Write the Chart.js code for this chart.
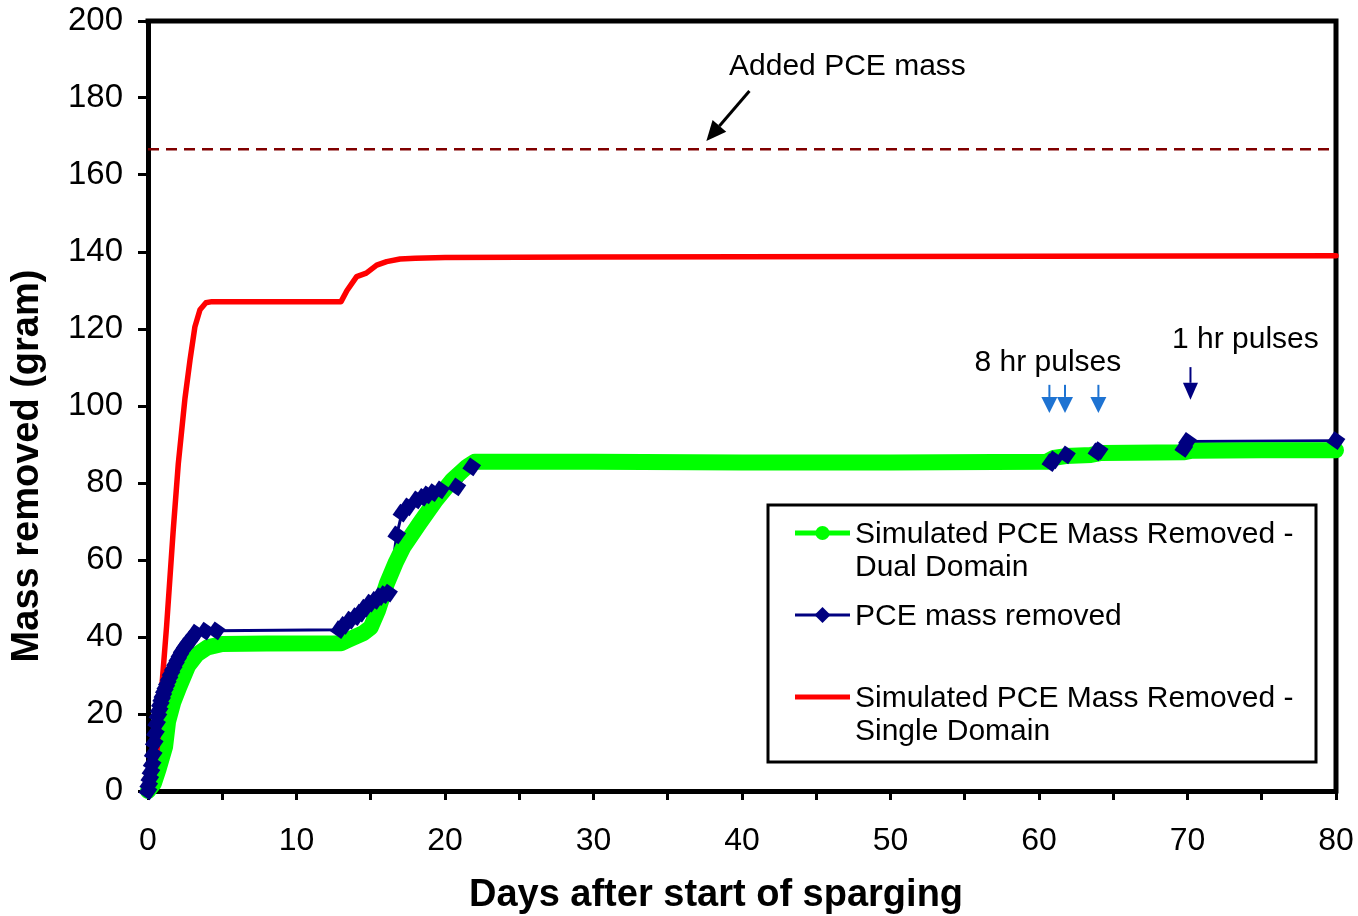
<!DOCTYPE html>
<html><head><meta charset="utf-8">
<script src="https://cdn.jsdelivr.net/npm/chart.js@4.4.1/dist/chart.umd.min.js"></script>
<style>html,body{margin:0;padding:0;background:#fff;}#wrap{width:1358px;height:916px;position:relative;}</style>
</head><body><div id="wrap"><canvas id="c"></canvas></div>
<script>
// ---- data ----
const dualDays = [0, 0.4, 0.7, 1.15, 1.35, 1.7, 2.1, 2.7, 3.3, 4.0, 5.0, 8.0, 13.0, 13.5, 14.5, 15.0, 15.5, 16.1, 16.7, 17.2, 18.3, 19.4, 20.5, 21.5, 22.0, 30, 40, 50, 60.5, 61.0, 61.8, 63.5, 64.2, 69.8, 70.3, 75, 80];
const dualMass = [0, 2, 5.5, 11.5, 18, 23, 27, 32.5, 35.5, 37.3, 38.2, 38.3, 38.4, 39.3, 41, 42.5, 47, 54, 59.5, 63.4, 69.6, 75.6, 80.8, 84.3, 85.5, 85.5, 85.3, 85.3, 85.5, 86.5, 87.0, 87.3, 87.8, 88.0, 88.4, 88.5, 88.5];

const obsDays = [0, 0.05, 0.12, 0.2, 0.28, 0.35, 0.42, 0.5, 0.58, 0.67, 0.75, 0.83, 0.92, 1.0, 1.1, 1.2, 1.3, 1.42, 1.55, 1.7, 1.85, 2.0, 2.15, 2.3, 2.5, 2.7, 2.9, 3.2, 3.85, 4.6,
  12.9, 13.2, 13.6, 14.0, 14.3, 14.6, 14.95, 15.3, 15.6, 15.9, 16.2, 16.75, 17.1, 17.5, 18.1, 18.5, 18.8, 19.2, 19.7, 20.8, 21.8,
  60.8, 61.0, 61.85, 63.9, 64.05, 69.75, 70.0, 80];
const obsMass = [0, 1.5, 3.2, 5.0, 7.0, 9.5, 12.5, 15.0, 17.5, 19.5, 21.0, 22.5, 23.8, 24.8, 26.0, 27.0, 28.0, 29.2, 30.5, 31.8, 33.0, 34.2, 35.3, 36.4, 37.5, 38.5, 39.4, 41.0, 41.5, 41.6,
  41.9, 43.0, 44.4, 45.3, 46.2, 47.5, 48.8, 49.5, 50.5, 51.0, 51.4, 66.5, 72.2, 73.8, 75.6, 76.3, 76.9, 77.5, 78.2, 79.0, 84.2,
  85.3, 86.0, 87.3, 88.1, 88.4, 89.0, 90.8, 91.0];

const singleDays = [0, 0.6, 0.95, 1.25, 1.7, 2.04, 2.49, 2.83, 3.16, 3.5, 3.9, 4.3, 13.0, 13.4, 14.05, 14.7, 15.4, 16.07, 16.97, 18, 20, 30, 50, 80];
const singleMass = [0, 10, 28, 42.7, 67.8, 85, 102, 112, 120.6, 125, 126.8, 127.1, 127.1, 130, 133.6, 134.5, 136.6, 137.5, 138.2, 138.4, 138.6, 138.7, 138.8, 139.0];

const addedDays = [0, 80];
const addedMass = [166.7, 166.7];

const seriesNames = [
  ['Simulated PCE Mass Removed -', 'Dual Domain'],
  ['PCE mass removed'],
  ['Simulated PCE Mass Removed -', 'Single Domain']
];
const xTitle = 'Days after start of sparging';
const yTitle = 'Mass removed (gram)';
const noteTexts = ['Added PCE mass', '8 hr pulses', '1 hr pulses'];

// ---- styling / layout ----
const FONT = '"Liberation Sans", Arial, Helvetica, sans-serif';
const GREEN = '#00FF00', NAVY = '#000080', RED = '#FF0000', DARKRED = '#800000', PULSE = '#1E73D2';
Chart.defaults.font.family = FONT;
Chart.defaults.font.size = 32;
Chart.defaults.color = '#000';

const pts = (xs, ys) => xs.map((x, i) => ({x, y: ys[i]}));

const notes = [
  {text: noteTexts[0], x: 47.1, y: 188.0},
  {text: noteTexts[1], x: 60.6, y: 111.3},
  {text: noteTexts[2], x: 73.9, y: 117.1}
];
const arrows = [
  {x1: 40.5, y1: 181.8, x2: 37.6, y2: 168.8, color: '#000', w: 3, hl: 20, hw: 18},
  {x1: 60.7, y1: 105.5, x2: 60.7, y2: 98.2, color: PULSE, w: 2, hl: 16, hw: 16},
  {x1: 61.75, y1: 105.5, x2: 61.75, y2: 98.2, color: PULSE, w: 2, hl: 16, hw: 16},
  {x1: 64.0, y1: 105.5, x2: 64.0, y2: 98.2, color: PULSE, w: 2, hl: 16, hw: 16},
  {x1: 70.2, y1: 110.1, x2: 70.2, y2: 101.6, color: NAVY, w: 2, hl: 17, hw: 15}
];

function drawArrow(ctx, x1, y1, x2, y2, color, w, hl, hw) {
  const ang = Math.atan2(y2 - y1, x2 - x1);
  const bx = x2 - hl * Math.cos(ang), by = y2 - hl * Math.sin(ang);
  ctx.save();
  ctx.strokeStyle = color; ctx.fillStyle = color; ctx.lineWidth = w;
  ctx.beginPath(); ctx.moveTo(x1, y1); ctx.lineTo(bx, by); ctx.stroke();
  ctx.beginPath();
  ctx.moveTo(x2, y2);
  ctx.lineTo(bx + hw / 2 * Math.sin(ang), by - hw / 2 * Math.cos(ang));
  ctx.lineTo(bx - hw / 2 * Math.sin(ang), by + hw / 2 * Math.cos(ang));
  ctx.closePath(); ctx.fill();
  ctx.restore();
}

const overlay = {
  id: 'overlay',
  beforeDatasetsDraw(chart) {
    const {ctx, chartArea: a} = chart;
    ctx.save();
    ctx.strokeStyle = '#000'; ctx.lineWidth = 5; ctx.lineCap = 'square';
    ctx.beginPath();
    ctx.moveTo(a.left, a.top); ctx.lineTo(a.right, a.top); ctx.lineTo(a.right, a.bottom);
    ctx.stroke();
    // axis titles
    ctx.fillStyle = '#000';
    ctx.font = 'bold 38px ' + FONT;
    ctx.textAlign = 'center'; ctx.textBaseline = 'middle';
    ctx.fillText(xTitle, (a.left + a.right) / 2 - 26, a.bottom + 105);
    ctx.save();
    ctx.translate(28, (a.top + a.bottom) / 2 + 60);
    ctx.rotate(-Math.PI / 2);
    ctx.fillText(yTitle, 0, 0);
    ctx.restore();
    ctx.restore();
  },
  afterDatasetsDraw(chart) {
    const {ctx, chartArea: a, scales: {x, y}} = chart;
    ctx.save();
    ctx.font = '30px ' + FONT; ctx.fillStyle = '#000';
    ctx.textAlign = 'center'; ctx.textBaseline = 'middle';
    notes.forEach(n => ctx.fillText(n.text, x.getPixelForValue(n.x), y.getPixelForValue(n.y)));
    arrows.forEach(r => drawArrow(ctx, x.getPixelForValue(r.x1), y.getPixelForValue(r.y1),
      x.getPixelForValue(r.x2), y.getPixelForValue(r.y2), r.color, r.w, r.hl, r.hw));

    // legend box
    const L = a.left + 620, T = a.top + 484, R = a.right - 20, B = a.top + 741;
    ctx.fillStyle = '#fff'; ctx.fillRect(L, T, R - L, B - T);
    ctx.strokeStyle = '#000'; ctx.lineWidth = 3; ctx.strokeRect(L, T, R - L, B - T);
    const sx1 = L + 27, sx2 = L + 82, sxm = (sx1 + sx2) / 2, tx = L + 87;
    const rows = [T + 28, T + 110, T + 192];
    const styles = [
      {color: GREEN, lw: 5, marker: 'circle'},
      {color: NAVY, lw: 3, marker: 'diamond'},
      {color: RED, lw: 5, marker: null}
    ];
    ctx.textAlign = 'left'; ctx.textBaseline = 'middle'; ctx.fillStyle = '#000';
    rows.forEach((ry, i) => {
      const s = styles[i];
      ctx.strokeStyle = s.color; ctx.lineWidth = s.lw; ctx.lineCap = 'butt';
      ctx.beginPath(); ctx.moveTo(sx1, ry); ctx.lineTo(sx2, ry); ctx.stroke();
      ctx.fillStyle = s.color;
      if (s.marker === 'circle') { ctx.beginPath(); ctx.arc(sxm, ry, 7, 0, Math.PI * 2); ctx.fill(); }
      if (s.marker === 'diamond') {
        ctx.beginPath(); ctx.moveTo(sxm, ry - 8); ctx.lineTo(sxm + 8, ry); ctx.lineTo(sxm, ry + 8); ctx.lineTo(sxm - 8, ry); ctx.closePath(); ctx.fill();
      }
      ctx.fillStyle = '#000';
      seriesNames[i].forEach((t, k) => ctx.fillText(t, tx, ry + 2 + k * 33));
    });
    ctx.restore();
  }
};

new Chart(document.getElementById('c'), {
  type: 'scatter',
  data: {
    datasets: [
      // measured markers (drawn on top of everything)
      {label: seriesNames[1].join(' '), data: pts(obsDays, obsMass), showLine: false, order: 0,
       backgroundColor: NAVY, borderColor: NAVY, pointStyle: 'rectRot', pointRadius: 9.5,
       pointRotation: -10, pointBorderWidth: 0, clip: false},
      {label: seriesNames[2].join(' '), data: pts(singleDays, singleMass), showLine: true, order: 1,
       borderColor: RED, backgroundColor: RED, borderWidth: 5.5, pointRadius: 0, tension: 0,
       borderJoinStyle: 'round', borderCapStyle: 'round', clip: false},
      {label: seriesNames[0].join(' '), data: pts(dualDays, dualMass), showLine: true, order: 2,
       borderColor: GREEN, backgroundColor: GREEN, borderWidth: 16, pointRadius: 0,
       borderJoinStyle: 'round', borderCapStyle: 'round', clip: false},
      // measured connecting line (drawn beneath the dual-domain band)
      {label: seriesNames[1].join(' ') + ' line', data: pts(obsDays, obsMass), showLine: true, order: 3,
       borderColor: NAVY, borderWidth: 3, pointRadius: 0, clip: false},
      {label: 'Added PCE mass', data: pts(addedDays, addedMass), showLine: true, order: 4,
       borderColor: DARKRED, borderWidth: 2.5, borderDash: [11, 7], pointRadius: 0, clip: false}
    ]
  },
  options: {
    responsive: true, maintainAspectRatio: false, animation: false,
    layout: {padding: {top: 21, right: 22, left: 0, bottom: 0}},
    plugins: {legend: {display: false}, tooltip: {enabled: false}},
    scales: {
      x: {
        type: 'linear', min: 0, max: 80,
        afterFit: s => { s.height = 125; s.paddingLeft = 0; s.paddingRight = 0; },
        ticks: {stepSize: 5, autoSkip: false, maxRotation: 0, padding: 22,
          callback: v => (v % 10 === 0 ? String(v) : '')},
        grid: {drawOnChartArea: false, drawTicks: true, tickLength: 9, color: '#000', lineWidth: 3},
        border: {display: true, color: '#000', width: 5},
        title: {display: false}
      },
      y: {
        type: 'linear', min: 0, max: 200,
        afterFit: s => { s.width = 148; s.paddingTop = 0; s.paddingBottom = 0; },
        ticks: {stepSize: 20, padding: 15, font: {size: 33}},
        grid: {drawOnChartArea: false, drawTicks: true, tickLength: 10, color: '#000', lineWidth: 3},
        border: {display: true, color: '#000', width: 5},
        title: {display: false}
      }
    }
  },
  plugins: [overlay]
});
</script></body></html>
